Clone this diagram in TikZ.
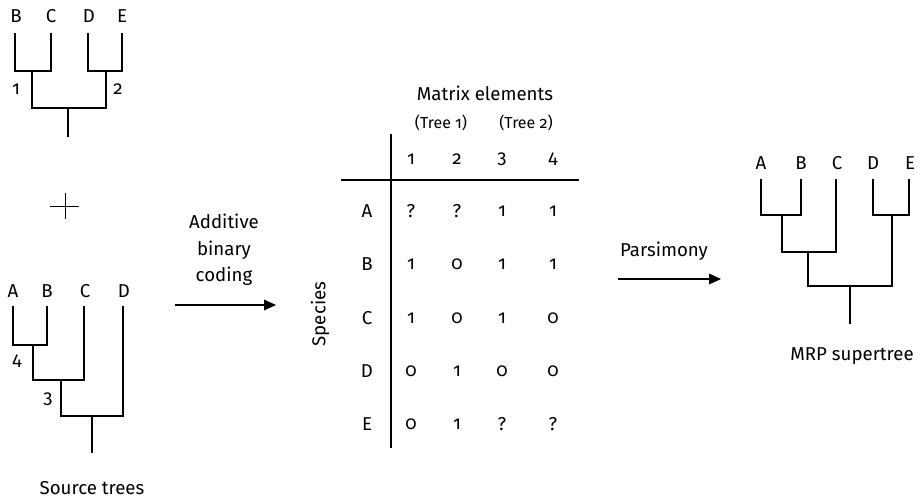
\documentclass[tikz,border=0pt]{standalone}
\usepackage{fontspec}
\setmainfont[Numbers=OldStyle]{Fira Sans}
\usetikzlibrary{arrows.meta}
\begin{document}
\begin{tikzpicture}[x=0.75pt,y=-0.75pt,
  lbl/.style={font=\fontsize{14}{20}\selectfont, inner sep=0pt},
  small/.style={font=\fontsize{12}{14}\selectfont, inner sep=0pt},
  br/.style={line width=0.9pt},
  arr/.style={line width=0.9pt,-{Triangle[length=9pt,width=8pt]}}]
\useasboundingbox (0,0) rectangle (920,501);
% ---------- Source tree 1 ----------
\node[lbl] (t1B) at (16,16) {B};
\node[lbl] (t1C) at (51,16) {C};
\node[lbl] (t1D) at (89,16) {D};
\node[lbl] (t1E) at (122,16) {E};
\coordinate (t1bc) at (32,71);
\coordinate (t1de) at (106,71);
\coordinate (t1r) at (68,108);
\coordinate (t1s) at (68,137);
\draw[br] (15,33) |- (t1bc) -| (51,33);
\draw[br] (88,33) |- (t1de) -| (122,33);
\draw[br] (t1bc) |- (t1r) -| (t1de);
\draw[br] (t1r) -- (t1s);
\node[lbl] (n1) at (16,89) {1};
\node[lbl] (n2) at (118,89) {2};
% plus
\coordinate (pc) at (65,206);
\draw[line width=0.7pt] (50,206) -- (79,206);
\draw[line width=0.7pt] (65,193) -- (65,219);
% ---------- Source tree 2 ----------
\node[lbl] (t2A) at (13,291) {A};
\node[lbl] (t2B) at (47,291) {B};
\node[lbl] (t2C) at (85,291) {C};
\node[lbl] (t2D) at (124,291) {D};
\coordinate (t2ab) at (33,345);
\coordinate (t2abc) at (61,380);
\coordinate (t2r) at (92,416);
\coordinate (t2s) at (92,453);
\draw[br] (13,306) |- (t2ab) -| (47,306);
\draw[br] (t2ab) |- (t2abc) -| (84,306);
\draw[br] (t2abc) |- (t2r) -| (123,306);
\draw[br] (t2r) -- (t2s);
\node[lbl] (n4) at (17,361) {4};
\node[lbl] (n3) at (48,399) {3};
\node[lbl] (src) at (92,488) {Source trees};
% ---------- Arrow 1 ----------
\node[lbl, align=center] (abc) at (224,250) {Additive\\binary\\coding};
\coordinate (a1s) at (175,305);
\coordinate (a1e) at (276,305);
\draw[arr] (a1s) -- (a1e);
% ---------- Matrix ----------
\node[lbl] (me) at (485,93) {Matrix elements};
\node[small] (tr1) at (441,123) {(Tree 1)};
\node[small] (tr2) at (526,123) {(Tree 2)};
\coordinate (vt) at (391,134);
\coordinate (vb) at (391,448);
\coordinate (hl) at (341,180);
\coordinate (hr) at (579,180);
\draw[line width=0.9pt] (vt) -- (vb);
\draw[line width=0.9pt] (hl) -- (hr);
\foreach \c/\x in {1/411,2/457,3/502,4/553}
  \node[lbl] (col\c) at (\x,159) {\c};
\node[lbl, rotate=90] (spec) at (320,314) {Species};
\foreach \r/\y/\a/\b/\cc/\d in {A/211/?/?/1/1, B/264/1/0/1/1, C/318/1/0/1/0, D/371/0/1/0/0, E/424/0/1/?/?}{
  \node[lbl] (row\r) at (367,\y) {\r};
  \node[lbl] (m\r1) at (411,\y) {\a};
  \node[lbl] (m\r2) at (457,\y) {\b};
  \node[lbl] (m\r3) at (502,\y) {\cc};
  \node[lbl] (m\r4) at (553,\y) {\d};
}
% ---------- Arrow 2 ----------
\node[lbl] (pars) at (664,251) {Parsimony};
\coordinate (a2s) at (618,279);
\coordinate (a2e) at (721,279);
\draw[arr] (a2s) -- (a2e);
% ---------- Supertree ----------
\node[lbl] (sA) at (761,163) {A};
\node[lbl] (sB) at (801,163) {B};
\node[lbl] (sC) at (837,163) {C};
\node[lbl] (sD) at (873,163) {D};
\node[lbl] (sE) at (910,163) {E};
\coordinate (sab) at (782,215);
\coordinate (sabc) at (808,252);
\coordinate (sde) at (892,215);
\coordinate (sr) at (850,286);
\coordinate (ss) at (850,324);
\draw[br] (761,179) |- (sab) -| (801,179);
\draw[br] (sab) |- (sabc) -| (836,179);
\draw[br] (873,179) |- (sde) -| (909,179);
\draw[br] (sabc) |- (sr) -| (sde);
\draw[br] (sr) -- (ss);
\node[lbl] (mrp) at (852,356) {MRP supertree};
\end{tikzpicture}
\end{document}
